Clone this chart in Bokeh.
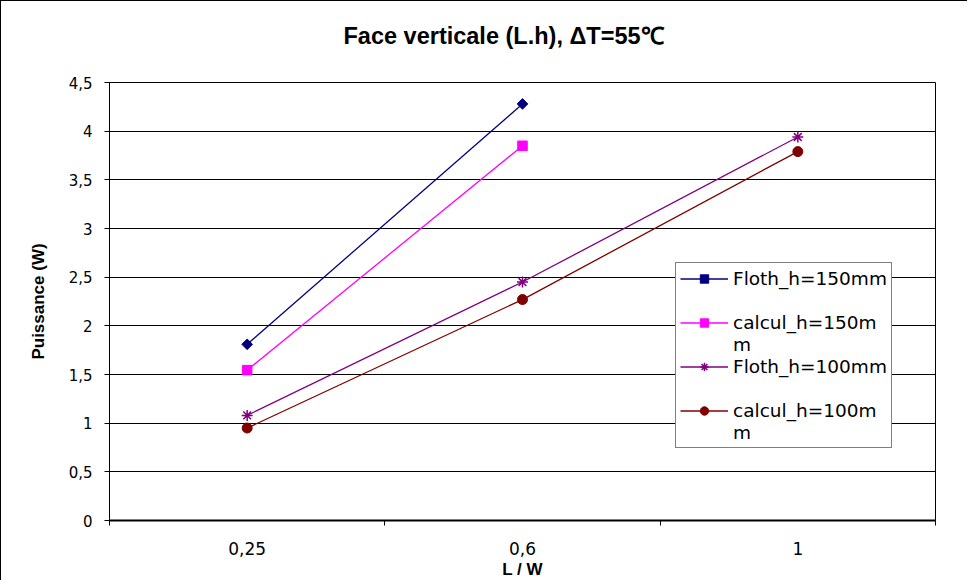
import math
from bokeh.plotting import figure
from bokeh.models import (Range1d, FixedTicker, CustomJSTickFormatter, Legend, LegendItem, Title)
from bokeh.embed import file_html
from bokeh.resources import INLINE

# ---- data ----
categories = ["0,25", "0,6", "1"]
floth_150 = [1.81, 4.28]
calcul_150 = [1.545, 3.85]
floth_100 = [1.08, 2.45, 3.94]
calcul_100 = [0.95, 2.27, 3.79]
y_ticks = [0, 0.5, 1, 1.5, 2, 2.5, 3, 3.5, 4, 4.5]
series_names = ["Floth_h=150mm", "calcul_h=150m", "Floth_h=100mm", "calcul_h=100m"]
wrapped_tail = ["", "m", "", "m"]   # continuation line of each legend label
chart_title = "Face verticale (L.h), ΔT=55℃"

FONT = "DejaVu Sans"
BFONT = "Liberation Sans"

x_pos = [i + 1 for i in range(len(categories))]

p = figure(width=967, height=580, output_backend="svg", toolbar_location=None,
           x_range=Range1d(0.5, len(categories) + 0.5), y_range=Range1d(0, 4.5),
           min_border_left=108, min_border_right=33, min_border_top=81, min_border_bottom=59)
p.styles = {"border-left": "1px solid black", "border-top": "1px solid black"}

# an empty second line lifts the title higher above the plot area
p.title = Title(text=chart_title + "\n ", align="left",
                text_font=BFONT, text_font_size="23.5px", text_font_style="bold",
                text_color="black", offset=234, standoff=15)

p.background_fill_color = "white"
p.border_fill_color = "white"
p.outline_line_color = "black"
p.outline_line_width = 1

# grid
p.xgrid.grid_line_color = None
p.ygrid.grid_line_color = "black"
p.ygrid.grid_line_width = 1

# y axis
p.yaxis.ticker = FixedTicker(ticks=y_ticks, minor_ticks=[])
p.yaxis.formatter = CustomJSTickFormatter(code="return tick.toString().replace('.', ',');")
p.yaxis.major_tick_out = 5
p.yaxis.major_tick_in = 0
p.yaxis.minor_tick_line_color = None
p.yaxis.axis_line_color = "black"
p.yaxis.major_tick_line_color = "black"
p.yaxis.major_label_text_font = FONT
p.yaxis.major_label_text_font_size = "15px"
p.yaxis.major_label_text_color = "black"
p.yaxis.major_label_standoff = 12
p.yaxis.axis_label = "Puissance (W)"
p.yaxis.axis_label_text_font = BFONT
p.yaxis.axis_label_text_font_size = "17px"
p.yaxis.axis_label_text_font_style = "bold"
p.yaxis.axis_label_text_color = "black"
p.yaxis.axis_label_standoff = 18

# x axis: labels at category centers, ticks at boundaries
p.xaxis.ticker = FixedTicker(ticks=x_pos,
                             minor_ticks=[i + 0.5 for i in range(len(categories) + 1)])
p.xaxis.major_label_overrides = {x: c for x, c in zip(x_pos, categories)}
p.xaxis.major_tick_out = 0
p.xaxis.major_tick_in = 0
p.xaxis.minor_tick_out = 5
p.xaxis.minor_tick_in = 0
p.xaxis.minor_tick_line_color = "black"
p.xaxis.axis_line_color = "black"
p.xaxis.axis_line_width = 2
p.xaxis.major_label_text_font = FONT
p.xaxis.major_label_text_font_size = "17px"
p.xaxis.major_label_text_color = "black"
p.xaxis.major_label_standoff = 16
p.xaxis.axis_label = "L / W"
p.xaxis.axis_label_text_font = BFONT
p.xaxis.axis_label_text_font_size = "17px"
p.xaxis.axis_label_text_font_style = "bold"
p.xaxis.axis_label_text_color = "black"
p.xaxis.axis_label_standoff = 2

# series
c1 = "#000080"
c2 = "#FF00FF"
c3 = "#800080"
c4 = "#800000"

l1 = p.line(x_pos[:len(floth_150)], floth_150, line_color=c1, line_width=1.3)
m1 = p.scatter(x_pos[:len(floth_150)], floth_150, marker="square", angle=math.pi / 4,
               size=7.5, fill_color=c1, line_color=c1)
l2 = p.line(x_pos[:len(calcul_150)], calcul_150, line_color=c2, line_width=1.3)
m2 = p.scatter(x_pos[:len(calcul_150)], calcul_150, marker="square", size=9.5,
               fill_color=c2, line_color=c2)
l3 = p.line(x_pos, floth_100, line_color=c3, line_width=1.3)
m3 = p.scatter(x_pos, floth_100, marker="asterisk", size=11, fill_color=c3,
               line_color=c3, line_width=1.5)
l4 = p.line(x_pos, calcul_100, line_color=c4, line_width=1.3)
m4 = p.scatter(x_pos, calcul_100, marker="circle", size=10, fill_color=c4, line_color=c4)

renderers = [[l1, m1], [l2, m2], [l3, m3], [l4, m4]]
items = []
for name, tail, rs in zip(series_names, wrapped_tail, renderers):
    items.append(LegendItem(label=name, renderers=rs))
    # second text row: wrapped part of the label, or an empty spacer row
    items.append(LegendItem(label=tail if tail else " ", renderers=[]))

legend = Legend(items=items, location=(566, 72))
legend.border_line_color = "black"
legend.border_line_width = 1
legend.background_fill_color = "white"
legend.background_fill_alpha = 1
legend.label_text_font = FONT
legend.label_text_font_size = "18.5px"
legend.label_text_color = "black"
legend.glyph_width = 48
legend.glyph_height = 21
legend.label_standoff = 5
legend.spacing = 0
legend.padding = 4
legend.margin = 0
legend.label_height = 22
p.add_layout(legend, "center")

open("out.html", "w").write(file_html(p, INLINE))
